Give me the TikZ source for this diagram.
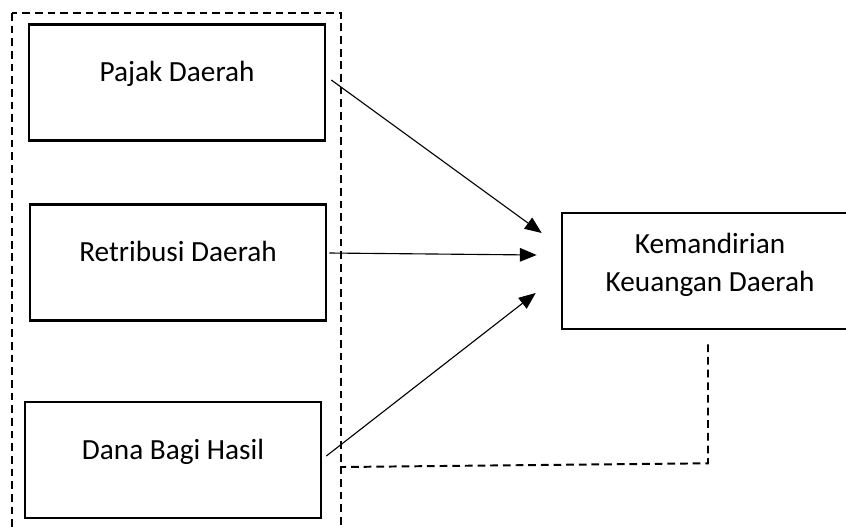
\documentclass[tikz,border=0pt]{standalone}
\usepackage{fontspec}
\setmainfont{Carlito}
\usepackage{tikz}
\usetikzlibrary{arrows.meta, calc}

\begin{document}
\begin{tikzpicture}[
    x=0.025cm, y=-0.025cm,
    every node/.style={font=\fontsize{20.8}{27}\selectfont},
    box/.style={
        rectangle,
        draw=black,
        line width=1.8pt,
        minimum width=7.4cm,
        minimum height=2.9cm,
        inner sep=0pt
    },
    boxtext/.style={
        anchor=base,
        inner sep=0pt,
        align=center
    },
    myarrow/.style={
        -{Triangle[length=4.2mm, width=3.4mm]},
        line width=0.8pt,
        draw=black
    },
    dline/.style={
        dash pattern=on 5.5pt off 3.5pt,
        line width=1.4pt,
        draw=black
    }
]
\useasboundingbox (0,0) rectangle (846,529);
\clip (0,0) rectangle (846,529);

% Group frame
\draw[dline] (12,13) rectangle (341,560);

% Boxes
\node[box] (pajak) at (177,82.5) {};
\node[box] (retribusi) at (178,262.5) {};
\node[box] (dbh) at (173,460) {};
\node[box] (keu) at (710,271) {};

% Texts
\node[boxtext] (pajakt) at ($(pajak.center)+(0,-1.5)$) {Pajak Daerah};
\node[boxtext] (retribusit) at ($(retribusi.center)+(0,-1.5)$) {Retribusi Daerah};
\node[boxtext] (dbht) at ($(dbh.center)+(0,-1)$) {Dana Bagi Hasil};
\node[boxtext, anchor=center] (keut) at ($(keu.center)+(0,-6)$) {Kemandirian\\Keuangan Daerah};

% Arrows
\draw[myarrow] ($(pajak.east)+(5,-2.5)$) -- ($(keu.west)+(-19,-38)$);
\draw[myarrow] ($(retribusi.east)+(2,-9.5)$) -- ($(keu.west)+(-24,-16)$);
\draw[myarrow] ($(dbh.east)+(4,-4)$) -- ($(keu.west)+(-25,22)$);

% Link back to the group
\draw[dline] ($(keu.south)+(-2,14)$) -- ($(keu.south)+(-2,133)$) -- (342,467);

\end{tikzpicture}
\end{document}
